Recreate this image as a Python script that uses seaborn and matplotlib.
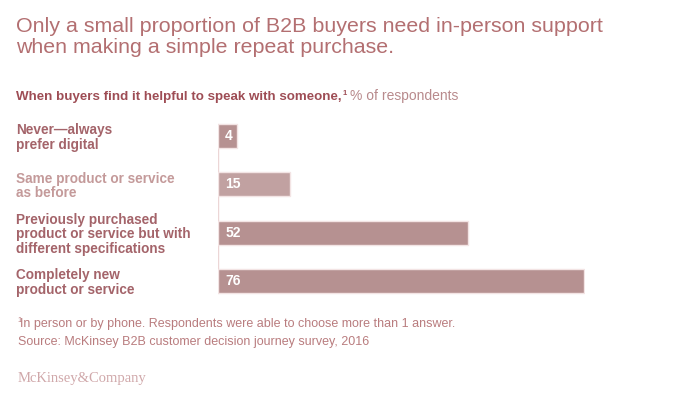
import matplotlib
matplotlib.use("Agg")
import matplotlib.pyplot as plt
import matplotlib.transforms as mtrans
import seaborn as sns
import pandas as pd

# ===============================
# DATA
# ===============================
categories = [
    "Never\u2014always\nprefer digital",
    "Same product or service\nas before",
    "Previously purchased\nproduct or service but with\ndifferent specifications",
    "Completely new\nproduct or service",
]
values = [4, 15, 52, 76]
highlight = [False, True, False, False]

df = pd.DataFrame({"category": categories, "value": values})

# ===============================
# STYLE
# ===============================
sns.set_theme(style="white")
plt.rcParams["font.family"] = ["Liberation Sans", "DejaVu Sans"]

TITLE_C = "#b36f71"
DARK_C = "#a4646a"
LIGHT_C = "#c49a9a"
BAR_C = "#bc8b8b"
BAR_LIGHT_C = "#c69c9c"
NOTE_C = "#b97c7e"

fig = plt.figure(figsize=(7, 4), dpi=100)
ax = fig.add_axes([218 / 700, 95 / 400, (585 - 218) / 700, 193 / 400])

# ===============================
# BARS
# ===============================
palette = [BAR_LIGHT_C if h else BAR_C for h in highlight]
sns.barplot(data=df, x="value", y="category", hue="category", palette=palette,
            legend=False, orient="h", width=0.5, ax=ax,
            edgecolor="#f3e4e4", linewidth=1)

ax.set_xlim(0, 76.3)
ax.set_ylim(3.5, -0.5)
ax.axvline(0, ymin=0.0625, ymax=0.9375, color="#ecd6d6", lw=1, zorder=0)
ax.set_xticks([])
ax.set_yticks([])
ax.set_xlabel("")
ax.set_ylabel("")
for s in ax.spines.values():
    s.set_visible(False)

for i, v in enumerate(values):
    ax.text(1.5, i, str(v), color="white", fontsize=10, fontweight="bold",
            va="center", ha="left")

# category labels on the left
trans = mtrans.blended_transform_factory(fig.transFigure, ax.transData)
for i, (c, h) in enumerate(zip(categories, highlight)):
    ax.text(16 / 700, i + 0.03, c, transform=trans, ha="left", va="center",
            fontsize=9.8, fontweight="bold", color=LIGHT_C if h else DARK_C,
            linespacing=1.05, clip_on=False)

# ===============================
# TITLES AND NOTES
# ===============================
# va="baseline" on a two-line text anchors the last line
fig.text(16 / 700, 1 - 53 / 400,
         "Only a small proportion of B2B buyers need in-person support\n"
         "when making a simple repeat purchase.",
         ha="left", va="baseline", fontsize=15.4, color=TITLE_C, linespacing=1.12)

renderer = fig.canvas.get_renderer()
t1 = fig.text(16 / 700, 1 - 100 / 400, "When buyers find it helpful to speak with someone,",
              ha="left", va="baseline", fontsize=9.6, fontweight="bold",
              color="#9e4d55")
bb = t1.get_window_extent(renderer)
t2 = fig.text(bb.x1 / 700 + 1 / 700, 1 - 95 / 400, "1", ha="left", va="baseline",
              fontsize=5.5, fontweight="bold", color="#9e4d55")
bb2 = t2.get_window_extent(renderer)
fig.text(bb2.x1 / 700 + 3 / 700, 1 - 100 / 400, "% of respondents", ha="left",
         va="baseline", fontsize=10, color="#b88a8c")

fig.text(17 / 700, 1 - 322 / 400, "1", ha="left", va="baseline", fontsize=5.5,
         color=NOTE_C)
fig.text(20 / 700, 1 - 327 / 400,
         "In person or by phone. Respondents were able to choose more than 1 answer.",
         ha="left", va="baseline", fontsize=9, color=NOTE_C)
fig.text(18 / 700, 1 - 345 / 400,
         "Source: McKinsey B2B customer decision journey survey, 2016",
         ha="left", va="baseline", fontsize=9, color=NOTE_C)
fig.text(18 / 700, 1 - 382 / 400, "McKinsey&Company", ha="left", va="baseline",
         fontsize=10.5, color="#d0a8aa", family=["Liberation Serif", "DejaVu Serif"])

fig.savefig("out.png", dpi=100, facecolor="white")
